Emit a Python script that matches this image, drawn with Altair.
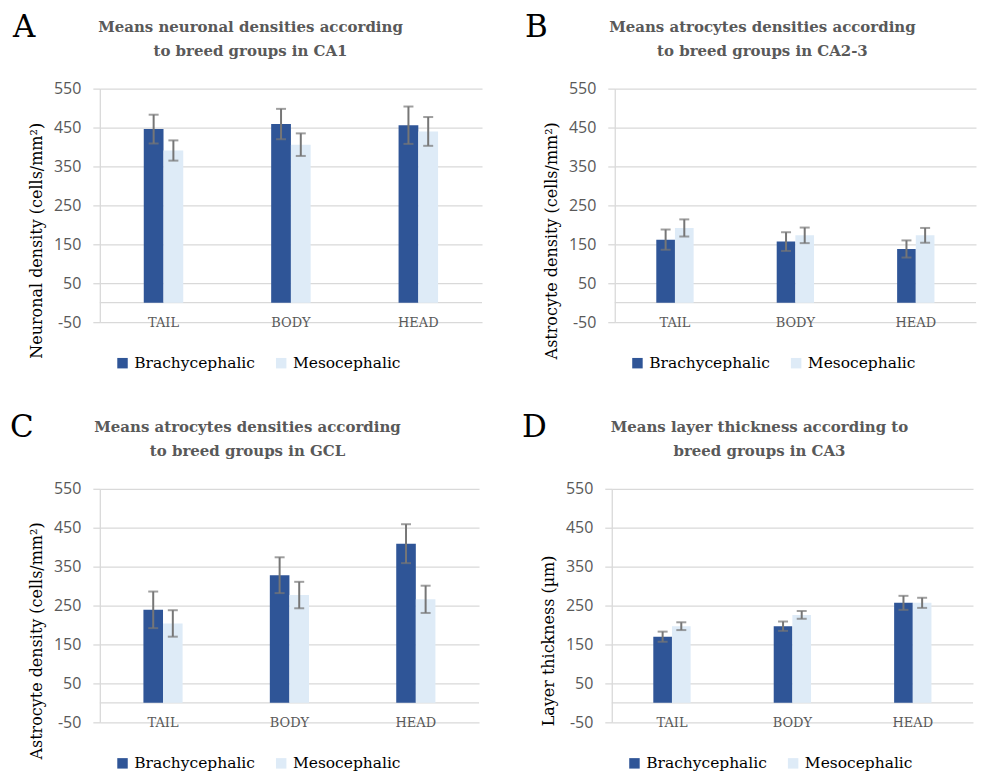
import altair as alt
import pandas as pd

regions = ["TAIL", "BODY", "HEAD"]
groups = ["Brachycephalic", "Mesocephalic"]
colors = ["#2F5597", "#DEEBF7"]

# Panel A - CA1 neuronal density
ca1_brachy = [446, 459, 456]
ca1_meso = [391, 406, 440]
ca1_brachy_err = [37, 39, 48]
ca1_meso_err = [26, 29, 37]

# Panel B - CA2-3 astrocyte density
ca23_brachy = [162, 157, 138]
ca23_meso = [192, 173, 173]
ca23_brachy_err = [26, 24, 22]
ca23_meso_err = [22, 20, 19]

# Panel C - GCL astrocyte density
gcl_brachy = [239, 328, 409]
gcl_meso = [204, 277, 266]
gcl_brachy_err = [47, 46, 50]
gcl_meso_err = [34, 34, 35]

# Panel D - CA3 layer thickness
ca3_brachy = [170, 197, 257]
ca3_meso = [197, 226, 257]
ca3_brachy_err = [13, 12, 18]
ca3_meso_err = [10, 10, 13]

y_ticks = [-50, 50, 150, 250, 350, 450, 550]

GRID = "#D9D9D9"
ERR = "#767676"
SERIF = "DejaVu Serif"


def panel(letter, title_lines, ytitle, b, m, be, me, width, height,
          letter_x, title_x):
    df = pd.DataFrame({
        "region": regions * 2,
        "group": [groups[0]] * 3 + [groups[1]] * 3,
        "mean": b + m,
        "err": be + me,
    })
    df["lo"] = df["mean"] - df["err"]
    df["hi"] = df["mean"] + df["err"]

    x = alt.X(
        "region:N", sort=regions,
        scale=alt.Scale(paddingInner=0.69, paddingOuter=0.345),
        axis=alt.Axis(title=None, domain=False, ticks=False, tickSize=0,
                      labelAngle=0, labelBaseline="middle", labelPadding=0,
                      labelFont=SERIF, labelFontSize=13, labelColor="#595959",
                      grid=False),
    )
    xo = alt.XOffset("group:N", sort=groups, scale=alt.Scale(paddingInner=0))
    yscale = alt.Scale(domain=[-50, 550], nice=False, zero=False)

    bars = alt.Chart(df).mark_bar().encode(
        x=x, xOffset=xo,
        y=alt.Y("mean:Q", scale=yscale,
                axis=alt.Axis(values=y_ticks, tickCount=len(y_ticks),
                              title=ytitle, grid=True,
                              labelOverlap=False,
                              labelExpr="'' + datum.value",
                              gridColor=GRID, gridWidth=1.3,
                              domain=True, domainColor=GRID, domainWidth=1.3,
                              ticks=True, tickSize=7, tickColor=GRID, tickWidth=1.3,
                              labelFont="Open Sans", labelFontSize=16,
                              labelColor="#595959", labelPadding=12,
                              titleFont=SERIF, titleFontSize=16,
                              titleFontWeight="normal", titleColor="black",
                              titlePadding=9, titleY=height / 2 + 35)),
        y2=alt.datum(0),
        color=alt.Color("group:N", sort=groups,
                        scale=alt.Scale(domain=groups, range=colors),
                        legend=alt.Legend(title=None, orient="none",
                                          legendX=15, legendY=height + 33,
                                          direction="horizontal",
                                          symbolType="square", symbolSize=110,
                                          symbolStrokeWidth=0,
                                          labelFont=SERIF, labelFontSize=15.5,
                                          labelColor="black", columnPadding=18)),
    )
    rules = alt.Chart(df).mark_rule(color=ERR, strokeWidth=2).encode(
        x=x, xOffset=xo, y="lo:Q", y2="hi:Q")
    cap_hi = alt.Chart(df).mark_tick(color=ERR, thickness=2, size=10,
                                     orient="horizontal").encode(
        x=x, xOffset=xo, y="hi:Q")
    cap_lo = alt.Chart(df).mark_tick(color=ERR, thickness=2, size=10,
                                     orient="horizontal").encode(
        x=x, xOffset=xo, y="lo:Q")
    zero = alt.Chart(pd.DataFrame({"z": [0]})).mark_rule(
        color=GRID, strokeWidth=1.3).encode(y=alt.Y("z:Q"))
    lab = alt.Chart(pd.DataFrame({"t": [letter]})).mark_text(
        font=SERIF, fontSize=31, align="left", baseline="alphabetic",
        color="black").encode(text="t:N", x=alt.value(letter_x), y=alt.value(-52))
    t1 = alt.Chart(pd.DataFrame({"t": [title_lines[0]]})).mark_text(
        font=SERIF, fontSize=15, fontWeight="bold", color="#595959",
        align="center", baseline="alphabetic").encode(
        text="t:N", x=alt.value(title_x), y=alt.value(-57))
    t2 = alt.Chart(pd.DataFrame({"t": [title_lines[1]]})).mark_text(
        font=SERIF, fontSize=15, fontWeight="bold", color="#595959",
        align="center", baseline="alphabetic").encode(
        text="t:N", x=alt.value(title_x), y=alt.value(-33))

    return alt.layer(zero, bars, rules, cap_hi, cap_lo, lab, t1, t2).properties(
        width=width, height=height)


pA = panel("A", ["Means neuronal densities according", "to breed groups in CA1"],
           "Neuronal density (cells/mm²)",
           ca1_brachy, ca1_meso, ca1_brachy_err, ca1_meso_err, 383, 234, -87, 151)
pB = panel("B", ["Means atrocytes densities according", "to breed groups in CA2-3"],
           "Astrocyte density (cells/mm²)",
           ca23_brachy, ca23_meso, ca23_brachy_err, ca23_meso_err, 362, 234, -90, 148)
pC = panel("C", ["Means atrocytes densities according", "to breed groups in GCL"],
           "Astrocyte density (cells/mm²)",
           gcl_brachy, gcl_meso, gcl_brachy_err, gcl_meso_err, 380, 234, -90, 148)
pD = panel("D", ["Means layer thickness according to", "breed groups in CA3"],
           "Layer thickness (µm)",
           ca3_brachy, ca3_meso, ca3_brachy_err, ca3_meso_err, 362, 234, -90, 148)

res = dict(color="independent", y="independent", x="independent",
           xOffset="independent")
row1 = alt.hconcat(pA, pB, spacing=42).resolve_scale(**res)
row2 = alt.hconcat(pC, pD, spacing=42).resolve_scale(**res)

chart = alt.vconcat(row1, row2, spacing=40).resolve_scale(
    color="independent").properties(
    padding={"left": 2, "top": 3, "right": 0, "bottom": 0},
    background="white",
).configure_view(stroke=None)

chart.save("out.html", embed_options={"renderer": "svg", "actions": False})
